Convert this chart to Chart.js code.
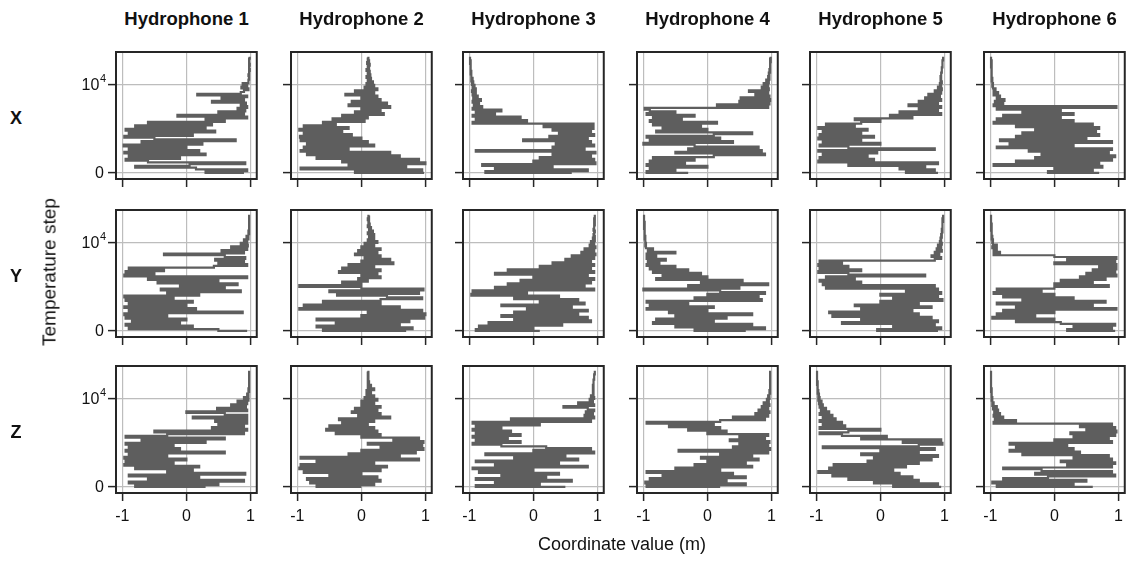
<!DOCTYPE html>
<html>
<head>
<meta charset="utf-8">
<script src="https://cdn.jsdelivr.net/npm/chart.js@4.4.1/dist/chart.umd.min.js"></script>
<style>
  html, body { margin: 0; padding: 0; background: #fff; }
  body { width: 1126px; height: 564px; position: relative; overflow: hidden;
         font-family: "Liberation Sans", Arial, Helvetica, sans-serif; color: #111; }
  .lbl { position: absolute; white-space: nowrap; line-height: 1; transform: translate(-50%, -50%); }
  .bold { font-weight: bold; }
  canvas { position: absolute; }
</style>
</head>
<body>
<script>
// Annealing traces: coordinate value (m) recorded every SAMPLE_EVERY temperature steps.
const hydrophones = ['Hydrophone 1', 'Hydrophone 2', 'Hydrophone 3', 'Hydrophone 4', 'Hydrophone 5', 'Hydrophone 6'];
const coordinates = ['X', 'Y', 'Z'];
const coordTicks = [-1, 0, 1];
const stepTicks = [0, 10000];
const SAMPLE_EVERY = 200;

const X_H1 = [
  0.9, 0.3, 0.95, 0.15, -0.8, 0.05, 0.92, -0.6, -0.95, -0.1,
  -0.9, 0.3, -0.97, 0.2, -0.9, 0.0, -0.98, 0.25, -0.7, 0.77,
  -0.5, -0.97, 0.1, -0.9, 0.45, -0.95, 0.3, -0.8, 0.4, -0.6,
  0.6, 0.3, 0.95, -0.14, 0.9, 0.5, 0.92, 0.8, 0.95, 0.85,
  0.93, 0.4, 0.9, 0.55, 0.95, 0.17, 0.85, 0.9, 0.97, 0.86,
  0.95, 0.88, 0.97, 0.97, 0.98, 0.98, 0.97, 0.98, 0.98, 0.99,
  0.98, 0.98, 0.99, 0.98, 0.98, 0.98, 0.99
];
const X_H2 = [
  0.98, -0.1, 0.95, -0.95, 0.7, -0.2, 1.0, -0.3, 0.9, -0.7,
  0.6, -0.85, 0.45, -0.95, -0.2, -0.9, 0.2, -0.85, 0.1, -0.95,
  0.0, -0.96, -0.15, -0.9, -0.3, -0.97, -0.2, -0.9, -0.4, -0.6,
  0.05, -0.45, 0.1, -0.3, 0.35, -0.1, 0.3, 0.0, 0.45, -0.2,
  0.4, -0.15, 0.3, 0.0, 0.25, -0.25, 0.2, -0.1, 0.25, 0.05,
  0.2, 0.08, 0.18, 0.1, 0.15, 0.08, 0.14, 0.1, 0.13, 0.08,
  0.12, 0.1, 0.13, 0.09, 0.12, 0.1, 0.11
];
const X_H3 = [
  0.6, -0.75, 0.85, -0.6, 0.3, -0.8, 0.97, 0.0, 0.95, 0.1,
  0.9, 0.3, 0.97, -0.9, 0.8, 0.3, 0.95, 0.35, 0.9, -0.16,
  0.85, 0.25, 0.95, 0.4, 0.9, 0.3, 0.94, 0.16, 0.94, -0.95,
  -0.1, -0.9, -0.2, -0.95, -0.6, -0.9, -0.5, -0.95, -0.8, -0.93,
  -0.85, -0.95, -0.82, -0.94, -0.87, -0.95, -0.9, -0.96, -0.9, -0.95,
  -0.92, -0.96, -0.94, -0.97, -0.95, -0.97, -0.97, -0.98, -0.97, -0.98,
  -0.98, -0.98, -0.98, -0.99, -0.98, -0.99, -0.99
];
const X_H4 = [
  -0.3, -0.95, -0.5, -0.9, 0.0, -0.95, -0.35, -0.9, -0.2, -0.85,
  0.1, 0.9, -0.5, 0.85, -0.3, 0.8, -0.2, -1.0, 0.4, -0.9,
  0.2, -0.95, 0.1, 0.7, -0.8, 0.0, -0.7, -0.1, -0.85, 0.15,
  -0.9, -0.4, -0.85, -0.2, -0.95, -0.5, -0.9, -0.98, 0.95, 0.15,
  0.97, 0.5, 0.98, 0.52, 0.97, 0.75, 0.95, 0.65, 0.96, 0.85,
  0.95, 0.88, 0.96, 0.92, 0.97, 0.95, 0.97, 0.96, 0.98, 0.97,
  0.98, 0.98, 0.98, 0.98, 0.99, 0.98, 0.99
];
const X_H5 = [
  0.9, 0.4, 0.85, 0.3, 0.7, -0.5, 0.9, -0.97, -0.1, -0.95,
  -0.2, -0.9, -0.05, -0.97, 0.85, -0.5, -0.95, 0.0, -0.9, -0.3,
  -0.97, -0.1, -0.95, -0.3, -0.9, -0.2, -0.97, -0.4, -0.85, -0.3,
  0.0, -0.4, 0.5, 0.15, 0.95, 0.3, 0.9, 0.6, 0.95, 0.44,
  0.9, 0.6, 0.95, 0.7, 0.93, 0.75, 0.95, 0.85, 0.96, 0.9,
  0.95, 0.93, 0.96, 0.94, 0.95, 0.94, 0.95, 0.95, 0.96, 0.96,
  0.96, 0.97, 0.97, 0.97, 0.97, 0.98, 0.98
];
const X_H6 = [
  0.7, -0.1, 0.6, 0.0, 0.75, -0.95, 0.7, -0.6, 0.9, -0.3,
  0.95, -0.2, 0.85, -0.4, 0.9, -0.9, 0.3, -0.7, 0.9, -0.85,
  0.5, -0.6, 0.7, -0.5, 0.65, -0.3, 0.7, -0.6, 0.6, -0.95,
  0.3, -0.9, 0.1, -0.8, 0.3, -0.5, 0.1, -0.9, 0.97, -0.95,
  -0.8, -0.93, -0.78, -0.9, -0.85, -0.95, -0.88, -0.95, -0.92, -0.96,
  -0.97, -0.96, -0.97, -0.98, -0.97, -0.98, -0.98, -0.98, -0.98, -0.98,
  -0.98, -0.99, -0.98, -0.99, -0.98, -0.99, -0.99
];

const Y_H1 = [
  0.95, 0.5, -0.9, 0.1, -0.95, -0.1, -0.85, 0.0, -0.95, -0.3,
  -0.97, 0.88, -0.9, 0.15, -0.97, 0.0, -0.9, 0.1, -0.95, -0.2,
  -0.97, 0.2, -0.3, 0.85, -0.4, 0.6, -0.1, 0.8, -0.45, 0.5,
  -0.6, 0.95, -0.97, -0.5, -0.95, -0.35, -0.9, 0.43, 0.95, 0.5,
  0.9, 0.45, 0.92, 0.6, -0.35, 0.9, 0.55, 0.95, 0.7, 0.96,
  0.85, 0.95, 0.9, 0.97, 0.94, 0.97, 0.98, 0.97, 0.98, 0.98,
  0.98, 0.98, 0.98, 0.98, 0.98, 0.98, 0.98
];
const Y_H2 = [
  0.7, -0.6, 0.8, -0.7, 0.6, -0.4, 0.75, -0.7, 0.98, 0.0,
  1.0, 0.1, 0.95, -0.97, 0.6, -0.9, 0.3, -0.6, 0.3, 0.95,
  0.4, -0.38, 0.9, -0.5, 0.97, 0.0, -0.97, 0.0, -0.3, 0.1,
  -0.05, 0.3, 0.0, 0.25, -0.35, 0.3, -0.3, 0.2, -0.2, 0.5,
  0.0, 0.45, 0.05, 0.3, -0.1, 0.25, -0.05, 0.3, 0.0, 0.2,
  0.05, 0.25, 0.1, 0.2, 0.12, 0.2, 0.1, 0.18, 0.12, 0.15,
  0.1, 0.13, 0.11, 0.12, 0.1, 0.12, 0.11
];
const Y_H3 = [
  0.1, -0.9, 0.0, -0.85, 0.45, -0.7, 0.9, -0.3, 0.85, -0.5,
  0.7, -0.3, 0.85, -0.1, 0.6, -0.5, 0.8, 0.1, 0.7, -0.3,
  0.4, -0.97, -0.1, -0.95, 0.95, -0.6, 0.8, -0.4, 0.9, -0.2,
  0.95, 0.0, 0.85, -0.6, 0.95, -0.4, 0.9, 0.1, 0.95, 0.3,
  0.9, 0.5, 0.95, 0.6, 0.97, 0.75, 0.95, 0.8, 0.97, 0.88,
  0.95, 0.9, 0.96, 0.93, 0.96, 0.94, 0.95, 0.96, 0.94, 0.95,
  0.95, 0.96, 0.95, 0.96, 0.95, 0.96, 0.96
];
const Y_H4 = [
  0.6, -0.2, 0.9, -0.5, 0.7, -0.85, 0.1, -0.8, 0.3, -0.5,
  0.7, -0.6, 0.0, -0.95, 0.1, -0.9, -0.3, -0.95, 0.85, -0.2,
  0.8, 0.0, 0.9, 0.2, -1.0, 0.5, -0.3, 0.95, -0.1, 0.55,
  -0.8, 0.0, -0.7, -0.1, -0.85, -0.3, -0.9, -0.5, -0.95, -0.75,
  -0.93, -0.65, -0.95, -0.8, -0.95, -0.5, -0.93, -0.85, -0.96, -0.97,
  -0.96, -0.97, -0.97, -0.98, -0.97, -0.98, -0.98, -0.98, -0.98, -0.99,
  -0.98, -0.99, -0.98, -0.99, -0.99, -0.99, -0.99
];
const Y_H5 = [
  0.9, -0.05, 0.95, 0.2, 0.85, -0.6, 0.9, -0.3, 0.8, -0.75,
  0.6, -0.8, 0.5, -0.3, 0.8, -0.4, 0.6, 0.0, 0.97, 0.2,
  0.9, 0.0, 0.95, 0.4, 0.9, -0.85, 0.85, -0.9, -0.3, -0.95,
  -0.4, -0.85, 0.7, -0.5, -0.97, -0.3, -0.95, -0.5, -0.97, -0.6,
  -0.95, 0.85, 0.95, 0.8, 0.92, 0.85, 0.96, 0.88, 0.95, 0.9,
  0.96, 0.93, 0.95, 0.94, 0.96, 0.95, 0.96, 0.97, 0.96, 0.97,
  0.97, 0.97, 0.97, 0.98, 0.97, 0.98, 0.98
];
const Y_H6 = [
  0.95, 0.2, 0.9, 0.3, 0.95, 0.1, -0.6, 0.0, -0.97, -0.3,
  -0.9, 0.0, -0.8, 0.97, -0.6, 0.6, -0.9, 0.8, -0.5, 0.3,
  -0.8, 0.0, -0.95, -0.2, -0.9, 0.0, 0.85, 0.0, 0.6, 0.1,
  0.8, 0.4, 0.97, 0.5, 0.95, 0.6, 0.97, 0.7, 0.97, 0.0,
  0.95, 0.2, 0.97, 0.0, -0.95, -0.85, -0.95, -0.9, -0.97, -0.9,
  -0.96, -0.97, -0.96, -0.98, -0.97, -0.98, -0.98, -0.98, -0.99, -0.98,
  -0.99, -0.98, -0.99, -0.99, -0.99, -0.99, -0.99
];

const Z_H1 = [
  0.3, -0.8, 0.5, -0.9, 0.9, -0.6, 0.2, -0.9, 0.92, -0.3,
  0.1, -0.8, 0.2, -0.97, -0.2, -0.95, 0.0, -0.97, -0.3, -0.9,
  0.6, -0.95, -0.1, -0.9, -0.2, -0.95, 0.3, -0.7, 0.6, -0.95,
  -0.3, 0.9, -0.5, 0.95, 0.4, 0.9, 0.5, 0.95, 0.45, 0.95,
  0.1, 0.95, 0.6, 0.0, 0.95, 0.48, 0.93, 0.7, 0.95, 0.8,
  0.97, 0.9, 0.97, 0.95, 0.97, 0.98, 0.97, 0.98, 0.98, 0.98,
  0.98, 0.98, 0.98, 0.98, 0.98, 0.98, 0.98
];
const Z_H2 = [
  0.0, -0.7, 0.2, -0.8, 0.3, -0.85, 0.25, -0.5, 0.0, -0.9,
  0.3, -0.97, 0.4, -0.95, 0.2, -0.7, 0.9, -0.95, 0.6, -0.2,
  0.85, 0.0, 0.97, 0.3, 0.95, 0.1, 0.97, 0.5, 0.9, 0.0,
  0.3, -0.4, 0.25, -0.55, 0.2, -0.5, 0.1, -0.3, 0.2, -0.35,
  0.45, -0.05, 0.3, -0.15, 0.25, -0.1, 0.3, 0.0, 0.2, 0.0,
  0.25, 0.05, 0.2, 0.08, 0.15, 0.08, 0.2, 0.1, 0.15, 0.1,
  0.12, 0.1, 0.11, 0.1, 0.11, 0.1, 0.11
];
const Z_H3 = [
  0.5, -0.9, 0.1, -0.6, 0.6, -0.9, 0.2, -0.5, 0.4, -0.85,
  0.0, -0.95, 0.85, -0.6, 0.4, -0.9, 0.7, -0.3, 0.5, -0.75,
  0.95, 0.0, 0.9, 0.2, -0.5, -0.95, -0.2, -0.9, -0.4, -0.95,
  -0.2, -0.9, -0.35, -0.95, -0.5, -0.9, 0.1, -0.95, 0.9, -0.35,
  0.95, 0.8, 0.93, 0.82, 0.95, 0.85, 0.47, 0.95, 0.7, 0.93,
  0.88, 0.95, 0.9, 0.94, 0.93, 0.94, 0.93, 0.94, 0.93, 0.94,
  0.94, 0.94, 0.95, 0.95, 0.95, 0.96, 0.96
];
const Z_H4 = [
  0.2, -0.95, 0.6, -0.97, 0.3, -0.9, 0.6, -0.7, 0.4, -0.95,
  0.2, -0.5, 0.7, -0.2, 0.6, 0.0, 0.8, -0.1, 0.7, 0.2,
  0.95, -0.45, 0.98, 0.4, 0.95, 0.5, 0.97, 0.35, 0.9, 0.5,
  0.95, 0.0, 0.3, -0.3, 0.2, -0.6, 0.1, -0.95, 0.2, 0.9,
  0.4, 0.95, 0.75, 0.97, 0.8, 0.95, 0.85, 0.97, 0.88, 0.96,
  0.93, 0.97, 0.95, 0.97, 0.98, 0.97, 0.98, 0.98, 0.98, 0.98,
  0.98, 0.98, 0.98, 0.98, 0.98, 0.98, 0.98
];
const Z_H5 = [
  0.95, 0.2, 0.9, -0.1, 0.6, -0.5, 0.5, -0.75, 0.3, -0.97,
  0.2, -0.8, 0.4, -0.73, 0.6, -0.2, 0.8, -0.1, 0.9, -0.3,
  0.6, 0.0, 0.85, -0.9, 0.6, 0.97, 0.35, 0.95, -0.3, 0.1,
  -0.6, -0.95, -0.5, 0.0, -0.95, -0.55, -0.9, -0.6, -0.95, -0.7,
  -0.9, -0.75, -0.95, -0.8, -0.93, -0.85, -0.95, -0.9, -0.96, -0.92,
  -0.97, -0.95, -0.97, -0.96, -0.98, -0.97, -0.98, -0.98, -0.98, -0.99,
  -0.98, -0.99, -0.99, -0.99, -0.99, -0.99, -0.99
];
const Z_H6 = [
  0.6, -0.9, 0.3, -0.97, 0.5, -0.8, -0.1, 0.95, -0.3, 0.9,
  -0.2, -0.8, 0.9, 0.2, 0.95, 0.1, 0.9, 0.3, 0.85, -0.5,
  0.4, -0.7, 0.3, -0.6, 0.2, -0.7, 0.9, 0.0, 0.85, 0.3,
  0.95, 0.25, 0.97, 0.5, 0.95, 0.4, 0.9, -0.95, -0.6, -0.93,
  -0.8, -0.95, -0.85, -0.94, -0.88, -0.96, -0.9, -0.97, -0.95, -0.97,
  -0.98, -0.97, -0.98, -0.98, -0.98, -0.99, -0.98, -0.99, -0.99, -0.99,
  -0.99, -0.99, -0.99, -0.99, -0.99, -0.99, -0.99
];

const traces = [
  [X_H1, X_H2, X_H3, X_H4, X_H5, X_H6],
  [Y_H1, Y_H2, Y_H3, Y_H4, Y_H5, Y_H6],
  [Z_H1, Z_H2, Z_H3, Z_H4, Z_H5, Z_H6]
];

// Panel grid geometry (plot frame of each small multiple).
const FRAME_LEFT = [116, 291, 463, 637, 810, 984];
const FRAME_TOP = [52, 210, 366];
const FRAME_W = 141, FRAME_H = 127;
const M_LEFT = 60, M_TOP = 4, M_RIGHT = 4, M_BOTTOM = 40;
const TICK_LEN = 8;
const FONT = '"Liberation Sans", Arial, Helvetica, sans-serif';

function label(text, x, y, size, bold, rotate) {
  const d = document.createElement('div');
  d.className = 'lbl' + (bold ? ' bold' : '');
  d.textContent = text;
  d.style.left = x + 'px';
  d.style.top = y + 'px';
  d.style.fontSize = size + 'px';
  if (rotate) d.style.transform = 'translate(-50%, -50%) rotate(-90deg)';
  document.body.appendChild(d);
}

// Black frame round each plot area.
const framePlugin = {
  id: 'panelFrame',
  afterDatasetsDraw(chart) {
    const a = chart.chartArea, ctx = chart.ctx;
    ctx.save();
    ctx.strokeStyle = '#262626';
    ctx.lineWidth = 2;
    ctx.strokeRect(a.left, a.top, a.right - a.left, a.bottom - a.top);
    ctx.restore();
  }
};

// Step-axis labels with a raised exponent ("10" + superscript "4").
const stepLabelPlugin = {
  id: 'stepLabels',
  afterDraw(chart, args, opts) {
    if (!opts.show) return;
    const ctx = chart.ctx, y = chart.scales.y;
    const xr = chart.chartArea.left - TICK_LEN - 3;
    ctx.save();
    ctx.fillStyle = '#111';
    ctx.textAlign = 'right';
    ctx.textBaseline = 'middle';
    stepTicks.forEach(v => {
      const py = y.getPixelForValue(v);
      if (v === 0) {
        ctx.font = '16px ' + FONT;
        ctx.fillText('0', xr - 1, py + 1);
      } else {
        const exp = String(Math.round(Math.log10(v)));
        ctx.font = '11px ' + FONT;
        const we = ctx.measureText(exp).width;
        ctx.fillText(exp, xr + 1, py - 6);
        ctx.font = '16px ' + FONT;
        ctx.fillText('10', xr + 1 - we - 0.5, py + 1);
      }
    });
    ctx.restore();
  }
};

function fixedTicks(values) {
  return scale => { scale.ticks = values.map(v => ({ value: v })); };
}

coordinates.forEach((coord, r) => {
  hydrophones.forEach((name, c) => {
    const values = traces[r][c];
    const steps = values.map((_, i) => i * SAMPLE_EVERY);
    const points = values.map((v, i) => ({ x: v, y: steps[i] }));

    const cv = document.createElement('canvas');
    const W = M_LEFT + FRAME_W + M_RIGHT, H = M_TOP + FRAME_H + M_BOTTOM;
    cv.width = W; cv.height = H;
    cv.style.width = W + 'px'; cv.style.height = H + 'px';
    cv.style.left = (FRAME_LEFT[c] - M_LEFT) + 'px';
    cv.style.top = (FRAME_TOP[r] - M_TOP) + 'px';
    document.body.appendChild(cv);

    const showY = c === 0, showX = r === coordinates.length - 1;
    const gridStyle = { color: '#bdbdbd', lineWidth: 1.2, tickColor: '#262626', tickLength: TICK_LEN, tickWidth: 1.5 };

    new Chart(cv.getContext('2d'), {
      type: 'scatter',
      data: {
        datasets: [{
          data: points,
          showLine: true,
          stepped: 'before',
          borderColor: '#5e5e5e',
          borderWidth: 2.2,
          pointRadius: 0
        }]
      },
      options: {
        responsive: false,
        animation: false,
        events: [],
        layout: { padding: { left: 0, top: M_TOP, right: M_RIGHT, bottom: 0 } },
        plugins: {
          legend: { display: false },
          tooltip: { enabled: false },
          stepLabels: { show: showY }
        },
        scales: {
          x: {
            type: 'linear', min: -1.1, max: 1.1,
            afterBuildTicks: fixedTicks(coordTicks),
            afterFit: s => { s.height = M_BOTTOM; },
            border: { display: false },
            grid: gridStyle,
            ticks: {
              color: showX ? '#111' : 'rgba(0,0,0,0)',
              padding: 6, maxRotation: 0, autoSkip: false,
              font: { family: FONT, size: 16 },
              callback: v => String(v)
            }
          },
          y: {
            type: 'linear', min: -700, max: 13750,
            afterBuildTicks: fixedTicks(stepTicks),
            afterFit: s => { s.width = M_LEFT; },
            border: { display: false },
            grid: gridStyle,
            ticks: { display: false }
          }
        }
      },
      plugins: [framePlugin, stepLabelPlugin]
    });
  });
});

// Column titles, row labels and axis titles.
hydrophones.forEach((name, c) => label(name, FRAME_LEFT[c] + FRAME_W / 2, 19, 18.5, true));
coordinates.forEach((coord, r) => label(coord, 16, FRAME_TOP[r] + FRAME_H / 2 + 2, 18, true));
label('Temperature step', 49, 272, 19, false, true);
label('Coordinate value (m)', 622, 544, 18, false);
</script>
</body>
</html>
